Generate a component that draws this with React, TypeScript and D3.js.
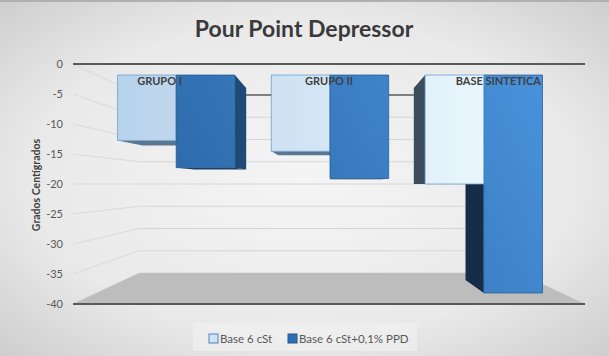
import React from "react";
import * as d3 from "d3";

const categories = ["GRUPO I", "GRUPO II", "BASE SINTETICA"];
const seriesNames = ["Base 6 cSt", "Base 6 cSt+0,1% PPD"];
const base6 = [-12, -14, -20];
const base6PPD = [-17, -19, -40];
const yTicks = [0, -5, -10, -15, -20, -25, -30, -35, -40];
const title = "Pour Point Depressor";
const yTitle = "Grados Centígrados";

const W = 609, H = 356;
const VX = 330, VY = 184;
const S_BACK = 0.742, S_BAR_F = 0.908, S_BAR_B = 0.8;
const AX0 = 73, AX1 = 585;

export default function App() {
  const y = d3.scaleLinear().domain([0, -40]).range([64, 304]);
  const x = d3.scaleBand<string>().domain(categories).range([76, 584]).paddingInner(0.237).paddingOuter(0.118);
  const xSub = d3.scaleBand<string>().domain(seriesNames).range([0, x.bandwidth()]);
  const proj = (X: number, Y: number, s: number): [number, number] => [VX + (X - VX) * s, VY + (Y - VY) * s];
  const pts = (arr: [number, number][]) => arr.map((p) => p.join(",")).join(" ");

  const series = [
    { name: seriesNames[0], values: base6, fill: "url(#gLight)", stroke: "#6b9fd3", side: "#3d4c5a", sideR: "#4a6684", bottom: "#5a7690" },
    { name: seriesNames[1], values: base6PPD, fill: "url(#gDark)", stroke: "#2a5e94", side: "#152d47", sideR: "#1f4a75", bottom: "#1e3d5e" },
  ];

  const bars: any[] = [];
  categories.forEach((c, i) => {
    series.forEach((s) => {
      const X0 = (x(c) as number) + (xSub(s.name) as number);
      const X1 = X0 + xSub.bandwidth();
      const Y0 = y(0), Y1 = y(s.values[i]);
      bars.push({ key: c + s.name, X0, X1, Y0, Y1, s, dist: Math.abs((X0 + X1) / 2 - VX) });
    });
  });
  bars.sort((a, b) => b.dist - a.dist);

  const line = d3.line();

  return (
    <svg width={W} height={H} style={{ position: "absolute", left: 0, top: 0 }} fontFamily="Lato, 'Open Sans', sans-serif">
      <defs>
        <radialGradient id="bg" cx="0.5" cy="0.5" r="0.75">
          <stop offset="0" stopColor="#f5f5f5" />
          <stop offset="0.6" stopColor="#e9e9e9" />
          <stop offset="1" stopColor="#c9c9c9" />
        </radialGradient>
        <linearGradient id="gLight" gradientUnits="userSpaceOnUse" x1="100" y1="0" x2="520" y2="0">
          <stop offset="0" stopColor="#b6d0eb" />
          <stop offset="1" stopColor="#eefafe" />
        </linearGradient>
        <linearGradient id="gDark" gradientUnits="userSpaceOnUse" x1="170" y1="290" x2="560" y2="70">
          <stop offset="0" stopColor="#2964a3" />
          <stop offset="1" stopColor="#4a94de" />
        </linearGradient>
      </defs>
      <rect x={0} y={0} width={W} height={H} fill="url(#bg)" />
      <rect x={0} y={0} width={W} height={2} fill="#b0b0b0" />

      {yTicks.map((t) => (
        <line key={"bg" + t}
          x1={proj(AX0, y(t), S_BACK)[0]} y1={proj(AX0, y(t), S_BACK)[1]}
          x2={proj(AX1, y(t), S_BACK)[0]} y2={proj(AX1, y(t), S_BACK)[1]}
          stroke={t === 0 ? "#5a5a5a" : "#d6d6d6"} strokeWidth={t === 0 ? 1.5 : 1} />
      ))}
      {yTicks.map((t) => (
        <path key={"sw" + t} d={line([proj(AX0, y(t), 1), proj(AX0, y(t), S_BACK)]) as string}
          stroke="#dadada" strokeWidth={1} fill="none" />
      ))}

      <polygon points={pts([proj(AX0, y(-40), 1), proj(AX1, y(-40), 1), proj(AX1, y(-40), S_BACK), proj(AX0, y(-40), S_BACK)])}
        fill="#bdbdbd" />

      <line x1={AX0} x2={AX1} y1={y(0)} y2={y(0)} stroke="#5a5a5a" strokeWidth={2} />
      <line x1={AX0} x2={AX1} y1={y(-40)} y2={y(-40)} stroke="#5a5a5a" strokeWidth={2} />

      {yTicks.map((t) => (
        <text key={"tl" + t} x={63} y={y(t) + 4} textAnchor="end" fontSize={11} fill="#595959">{t}</text>
      ))}

      {bars.map((b) => {
        const { X0, X1, Y0, Y1, s } = b;
        const faces: any[] = [];
        if (X1 < VX - 0.5) {
          faces.push(<polygon key="side" points={pts([proj(X1, Y0, S_BAR_F), proj(X1, Y0, S_BAR_B), proj(X1, Y1, S_BAR_B), proj(X1, Y1, S_BAR_F)])} fill={s.sideR} />);
        } else if (X0 > VX + 0.5) {
          faces.push(<polygon key="side" points={pts([proj(X0, Y0, S_BAR_F), proj(X0, Y0, S_BAR_B), proj(X0, Y1, S_BAR_B), proj(X0, Y1, S_BAR_F)])} fill={s.side} />);
        }
        if (proj(X0, Y1, S_BAR_F)[1] < VY) {
          faces.push(<polygon key="bot" points={pts([proj(X0, Y1, S_BAR_F), proj(X1, Y1, S_BAR_F), proj(X1, Y1, S_BAR_B), proj(X0, Y1, S_BAR_B)])} fill={s.bottom} />);
        }
        faces.push(<polygon key="front" points={pts([proj(X0, Y0, S_BAR_F), proj(X1, Y0, S_BAR_F), proj(X1, Y1, S_BAR_F), proj(X0, Y1, S_BAR_F)])}
          fill={s.fill} stroke={s.stroke} strokeWidth={0.8} />);
        return <g key={b.key}>{faces}</g>;
      })}

      {categories.map((c) => (
        <text key={"cl" + c} x={(x(c) as number) + x.bandwidth() / 2 - 1} y={85} textAnchor="middle" fontSize={11} fontWeight="bold" fill="#404040">{c}</text>
      ))}

      <text x={304} y={37} textAnchor="middle" fontSize={23} fontWeight="bold" fill="#3a3a3a">{title}</text>

      <text transform={`translate(40,${185}) rotate(-90)`} textAnchor="middle" fontSize={10.5} fontWeight="bold" fill="#404040">{yTitle}</text>

      <rect x={193} y={323} width={224} height={28} fill="#f0f0f0" opacity={0.7} />
      <rect x={209} y={334} width={9} height={9} fill="#cfe4f6" stroke="#4f86c0" strokeWidth={1} />
      <text x={220} y={343} fontSize={11.5} fill="#595959">{seriesNames[0]}</text>
      <rect x={288} y={334} width={9} height={9} fill="#2e70b5" stroke="#24568a" strokeWidth={1} />
      <text x={299} y={343} fontSize={11.5} fill="#595959">{seriesNames[1]}</text>
    </svg>
  );
}
